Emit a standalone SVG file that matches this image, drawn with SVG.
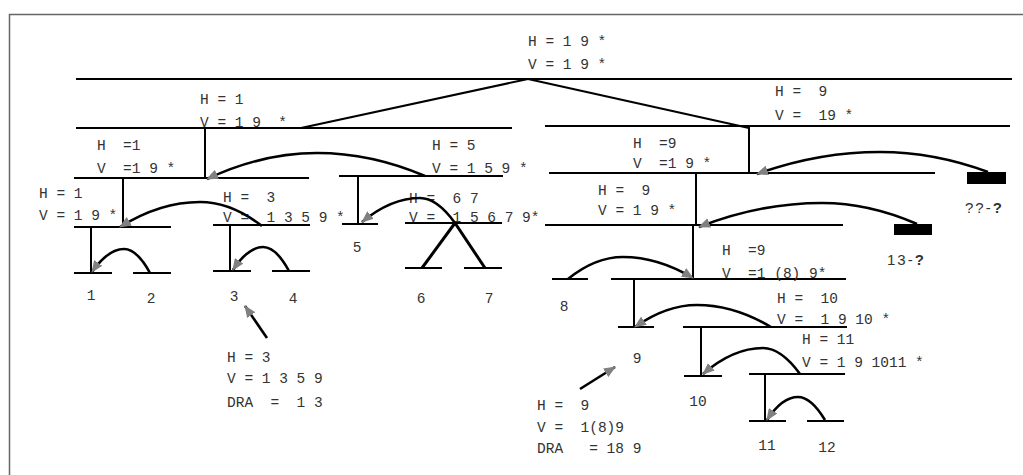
<svg xmlns="http://www.w3.org/2000/svg" width="1023" height="475" viewBox="0 0 1023 475">
<style>
.ln{stroke:#000;stroke-width:2;fill:none}
.th{stroke:#000;stroke-width:3;fill:none}
.arc{stroke:#000;stroke-width:2.6;fill:none;marker-end:url(#ah)}
.t{font-family:"Liberation Mono","DejaVu Sans Mono",monospace;font-size:14.5px;fill:#333;white-space:pre}
.c{font-family:"Liberation Mono","DejaVu Sans Mono",monospace;font-size:14.5px;fill:#333;text-anchor:middle}
.s{font-family:"Liberation Sans",Arial,sans-serif;font-size:15px;fill:#333;letter-spacing:2px;white-space:pre}
.blk{fill:#000}
</style>
<defs>
<marker id="ah" viewBox="0 0 12 10" refX="11" refY="5" markerWidth="12" markerHeight="10" markerUnits="userSpaceOnUse" orient="auto">
<path d="M0,0 L12,5 L0,10 z" fill="#808080"/>
</marker>
</defs>
<rect x="0" y="0" width="1023" height="475" fill="#fff"/>
<rect x="9.5" y="14.5" width="1030" height="480" fill="none" stroke="#666" stroke-width="1.5"/>

<g id="root">
<line class="ln" x1="76" y1="79" x2="1012" y2="79"/>
<text class="t" x="528" y="46">H = 1 9 *</text>
<text class="t" x="528" y="69">V = 1 9 *</text>
</g>
<g id="n1">
<line class="ln" x1="76" y1="128" x2="512" y2="128"/>
<text class="t" x="200" y="104">H = 1</text>
<text class="t" x="200" y="127">V = 1 9  *</text>
</g>
<g id="n9">
<line class="ln" x1="545" y1="126" x2="1010" y2="126"/>
<text class="t" x="775" y="96">H =  9</text>
<text class="t" x="775" y="120">V =  19 *</text>
</g>
<g id="n1b">
<line class="ln" x1="74" y1="178" x2="309" y2="178"/>
<text class="t" x="97" y="150">H  =1</text>
<text class="t" x="97" y="173">V  =1 9 *</text>
</g>
<g id="n5">
<line class="ln" x1="339" y1="176" x2="503" y2="176"/>
<text class="t" x="432" y="150">H = 5</text>
<text class="t" x="432" y="173">V = 1 5 9 *</text>
</g>
<g id="n1c">
<line class="ln" x1="74" y1="227" x2="171" y2="227"/>
<text class="t" x="39" y="198">H = 1</text>
<text class="t" x="39" y="220">V = 1 9 *</text>
</g>
<g id="n3">
<line class="ln" x1="213" y1="225" x2="310" y2="225"/>
<text class="t" x="223" y="202">H =  3</text>
<text class="t" x="223" y="222">V =  1 3 5 9 *</text>
</g>
<g id="n67">
<line class="ln" x1="405" y1="223" x2="502" y2="223"/>
<text class="t" x="409" y="203">H =  6 7</text>
<text class="t" x="409" y="222">V =  1 5 6 7 9*</text>
</g>
<g id="leaf1"><line class="ln" x1="74" y1="273" x2="112" y2="273"/><text class="c" x="91" y="300">1</text></g>
<g id="leaf2"><line class="ln" x1="133" y1="273" x2="171" y2="273"/><text class="c" x="151" y="303">2</text></g>
<g id="leaf3"><line class="ln" x1="213" y1="271" x2="251" y2="271"/><text class="c" x="234" y="301">3</text></g>
<g id="leaf4"><line class="ln" x1="272" y1="271" x2="310" y2="271"/><text class="c" x="293" y="303">4</text></g>
<g id="leaf5"><line class="ln" x1="342" y1="224" x2="378" y2="224"/><text class="c" x="357" y="252">5</text></g>
<g id="leaf6"><line class="ln" x1="405" y1="268" x2="442" y2="268"/><text class="c" x="421" y="303">6</text></g>
<g id="leaf7"><line class="ln" x1="464" y1="268" x2="502" y2="268"/><text class="c" x="489" y="303">7</text></g>

<g id="n9b">
<line class="ln" x1="549" y1="173" x2="935" y2="173"/>
<text class="t" x="633" y="148">H  =9</text>
<text class="t" x="633" y="168">V  =1 9 *</text>
</g>
<g id="stub1">
<rect class="blk" x="967" y="172" width="39" height="12"/>
<text class="s" x="965" y="213">??-<tspan font-weight="bold">?</tspan></text>
</g>
<g id="n9c">
<line class="ln" x1="545" y1="225" x2="843" y2="225"/>
<text class="t" x="598" y="195">H =  9</text>
<text class="t" x="598" y="215">V = 1 9 *</text>
</g>
<g id="stub2">
<rect class="blk" x="894" y="224" width="38" height="11"/>
<text class="s" x="887" y="265">13-<tspan font-weight="bold">?</tspan></text>
</g>
<g id="n9d">
<line class="ln" x1="611" y1="279" x2="846" y2="279"/>
<text class="t" x="722" y="255">H  =9</text>
<text class="t" x="722" y="278">V  =1 (8) 9*</text>
</g>
<g id="leaf8"><line class="ln" x1="552" y1="279" x2="588" y2="279"/><text class="c" x="564" y="311">8</text></g>
<g id="leaf9"><line class="ln" x1="618" y1="327" x2="654" y2="327"/><text class="c" x="637" y="363">9</text></g>
<g id="n10">
<line class="ln" x1="683" y1="327" x2="847" y2="327"/>
<text class="t" x="777" y="303">H =  10</text>
<text class="t" x="777" y="324">V =  1 9 10 *</text>
</g>
<g id="leaf10"><line class="ln" x1="684" y1="376" x2="722" y2="376"/><text class="c" x="698" y="406">10</text></g>
<g id="n11">
<line class="ln" x1="749" y1="374" x2="845" y2="374"/>
<text class="t" x="802" y="344">H = 11</text>
<text class="t" x="802" y="367">V = 1 9 1011 *</text>
</g>
<g id="leaf11"><line class="ln" x1="749" y1="421" x2="786" y2="421"/><text class="c" x="767" y="450">11</text></g>
<g id="leaf12"><line class="ln" x1="807" y1="421" x2="844" y2="421"/><text class="c" x="827" y="452">12</text></g>

<g id="note3">
<text class="t" x="227" y="362">H = 3</text>
<text class="t" x="227" y="383">V = 1 3 5 9</text>
<text class="t" x="227" y="407">DRA  =  1 3</text>
</g>
<g id="note9">
<text class="t" x="537" y="410">H =  9</text>
<text class="t" x="537" y="432">V =  1(8)9</text>
<text class="t" x="537" y="453">DRA   = 18 9</text>
</g>

<g id="connectors">
<line class="ln" x1="528" y1="79" x2="301" y2="128"/>
<line class="ln" x1="528" y1="79" x2="749" y2="128"/>
<line class="ln" x1="205" y1="128" x2="205" y2="178"/>
<line class="ln" x1="123" y1="178" x2="123" y2="227"/>
<line class="ln" x1="358" y1="176" x2="358" y2="224"/>
<line class="ln" x1="91" y1="227" x2="91" y2="274"/>
<line class="ln" x1="230" y1="225" x2="230" y2="272"/>
<line class="th" x1="455" y1="223" x2="422" y2="268"/>
<line class="th" x1="455" y1="223" x2="485" y2="268"/>
<line class="ln" x1="749" y1="127" x2="749" y2="173"/>
<line class="ln" x1="696" y1="173" x2="696" y2="225"/>
<line class="ln" x1="693" y1="225" x2="693" y2="279"/>
<line class="ln" x1="634" y1="279" x2="634" y2="328"/>
<line class="ln" x1="701" y1="327" x2="701" y2="376"/>
<line class="ln" x1="765" y1="374" x2="765" y2="422"/>
<path class="arc" d="M425,176 Q371,153 317,153 Q262,153 207,179"/>
<path class="arc" d="M262,226 Q231,202 200,202 Q160,202 120,227"/>
<path class="arc" d="M150,273 Q137,249 124,249 Q108,249 92,272"/>
<path class="arc" d="M289,271 Q276,247 263,247 Q248,247 233,270"/>
<path class="arc" d="M455,223 Q437,198 420,198 Q391,198 362,222"/>
<path class="arc" d="M988,172 Q934,152 880,152 Q818,152 757,174"/>
<path class="arc" d="M917,224 Q869,203 822,203 Q760,203 699,227"/>
<path class="arc" d="M568,279 Q595,257 623,257 Q658,257 693,278"/>
<path class="arc" d="M771,327 Q734,305 697,305 Q666,305 635,327"/>
<path class="arc" d="M800,374 Q781,348 763,348 Q733,348 703,374"/>
<path class="arc" d="M825,420 Q811,397 798,397 Q782,397 767,420"/>
<line class="arc" x1="267" y1="338" x2="245" y2="306"/>
<line class="arc" x1="580" y1="389" x2="615" y2="367"/>
</g>
</svg>
